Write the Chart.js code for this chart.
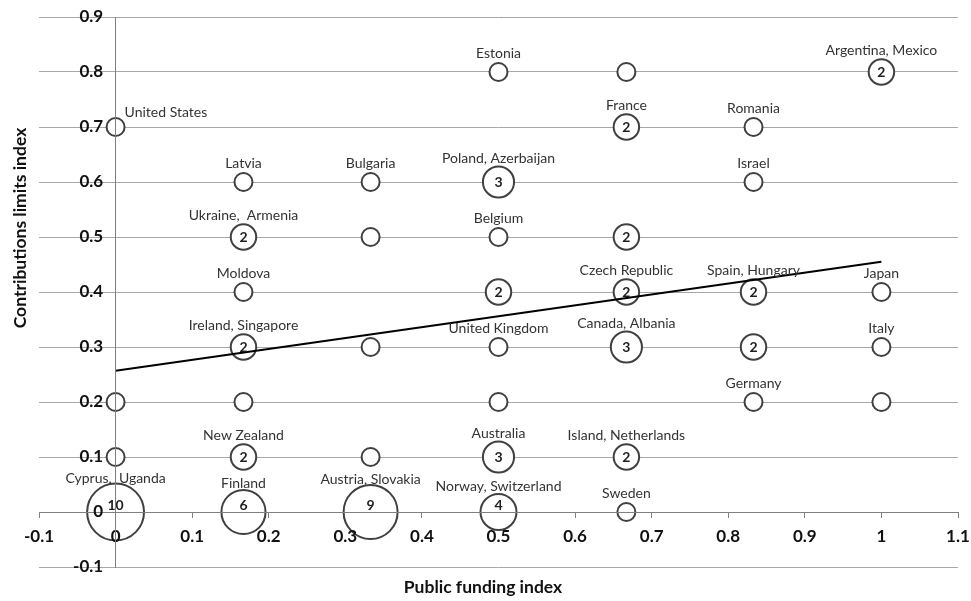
<!DOCTYPE html>
<html><head><meta charset="utf-8">
<script src="https://cdn.jsdelivr.net/npm/chart.js@4/dist/chart.umd.min.js"></script>
<style>html,body{margin:0;padding:0;background:#fff;}</style>
</head><body>
<canvas id="c" width="971" height="601"></canvas>
<script>
// ---- data ----
const names = [
  'Estonia', '', 'Argentina, Mexico',
  'United States', 'France', 'Romania',
  'Latvia', 'Bulgaria', 'Poland, Azerbaijan', 'Israel',
  'Ukraine,  Armenia', '', 'Belgium', '',
  'Moldova', '', 'Czech Republic', 'Spain, Hungary', 'Japan',
  'Ireland, Singapore', '', 'United Kingdom', 'Canada, Albania', '', 'Italy',
  '', '', '', 'Germany', '',
  '', 'New Zealand', '', 'Australia', 'Island, Netherlands',
  'Cyprus,  Uganda', 'Finland', 'Austria, Slovakia', 'Norway, Switzerland', 'Sweden'
];
const publicFunding = [
  0.5, 0.667, 1,
  0, 0.667, 0.833,
  0.167, 0.333, 0.5, 0.833,
  0.167, 0.333, 0.5, 0.667,
  0.167, 0.5, 0.667, 0.833, 1,
  0.167, 0.333, 0.5, 0.667, 0.833, 1,
  0, 0.167, 0.5, 0.833, 1,
  0, 0.167, 0.333, 0.5, 0.667,
  0, 0.167, 0.333, 0.5, 0.667
];
const contributionLimits = [
  0.8, 0.8, 0.8,
  0.7, 0.7, 0.7,
  0.6, 0.6, 0.6, 0.6,
  0.5, 0.5, 0.5, 0.5,
  0.4, 0.4, 0.4, 0.4, 0.4,
  0.3, 0.3, 0.3, 0.3, 0.3, 0.3,
  0.2, 0.2, 0.2, 0.2, 0.2,
  0.1, 0.1, 0.1, 0.1, 0.1,
  0, 0, 0, 0, 0
];
const countryCounts = [
  1, 1, 2,
  1, 2, 1,
  1, 1, 3, 1,
  2, 1, 1, 2,
  1, 2, 2, 2, 1,
  2, 1, 1, 3, 2, 1,
  1, 1, 1, 1, 1,
  1, 2, 1, 3, 2,
  10, 6, 9, 4, 1
];
const trendX = [0, 1];
const trendY = [0.257, 0.455];
const xTickLabels = ['-0.1','0','0.1','0.2','0.3','0.4','0.5','0.6','0.7','0.8','0.9','1','1.1'];
const yTickLabels = ['-0.1','0','0.1','0.2','0.3','0.4','0.5','0.6','0.7','0.8','0.9'];
const xTitle = 'Public funding index';
const yTitle = 'Contributions limits index';

// ---- rendering ----
const FONT = 'Lato, "Open Sans", sans-serif';
const radiusFor = n => 9 * Math.sqrt(n);

const bubbleLabels = {
  id: 'bubbleLabels',
  afterDatasetsDraw(chart) {
    const ctx = chart.ctx;
    const meta = chart.getDatasetMeta(1);
    ctx.save();
    meta.data.forEach((el, i) => {
      const n = countryCounts[i];
      const r = radiusFor(n);
      if (n > 1) {
        ctx.font = 'bold 14px ' + FONT;
        ctx.fillStyle = '#1e1e1e';
        ctx.textAlign = 'center';
        ctx.textBaseline = 'middle';
        ctx.fillText(String(n), el.x, el.y - (r > 16 ? 7 : 0));
      }
      const name = names[i];
      if (name) {
        ctx.font = '14px ' + FONT;
        ctx.fillStyle = '#333';
        ctx.textBaseline = 'middle';
        if (el.x < chart.chartArea.left + 90 && n === 1) {
          ctx.textAlign = 'left';
          ctx.fillText(name, el.x + 9, el.y - 15);
        } else {
          ctx.textAlign = 'center';
          ctx.fillText(name, el.x, el.y - (11 + 0.8 * r));
        }
      }
    });
    ctx.restore();
  }
};

const axisTitles = {
  id: 'axisTitles',
  afterDraw(chart) {
    const ctx = chart.ctx;
    ctx.save();
    ctx.font = 'bold 17.5px ' + FONT;
    ctx.fillStyle = '#111';
    ctx.textAlign = 'center';
    ctx.textBaseline = 'middle';
    ctx.fillText(xTitle, 483, 587);
    ctx.translate(20, 228);
    ctx.rotate(-Math.PI / 2);
    ctx.fillText(yTitle, 0, 0);
    ctx.restore();
  }
};

const noPad = s => { s.paddingLeft = 0; s.paddingRight = 0; s.paddingTop = 0; s.paddingBottom = 0; };

new Chart(document.getElementById('c'), {
  type: 'bubble',
  data: {
    datasets: [
      {
        type: 'line',
        data: trendX.map((x, i) => ({x, y: trendY[i]})),
        borderColor: '#000',
        borderWidth: 2,
        pointRadius: 0,
        fill: false,
        order: 0
      },
      {
        type: 'bubble',
        data: publicFunding.map((x, i) => ({x, y: contributionLimits[i], r: radiusFor(countryCounts[i])})),
        backgroundColor: '#ffffff',
        borderColor: '#404040',
        borderWidth: 2,
        hoverRadius: 0,
        order: 1
      }
    ]
  },
  options: {
    responsive: false,
    animation: false,
    events: [],
    layout: { autoPadding: false, padding: { left: 39, right: 13, top: 17, bottom: 34 } },
    plugins: { legend: { display: false }, tooltip: { enabled: false } },
    scales: {
      x: {
        type: 'linear', min: -0.1, max: 1.1,
        position: { y: 0 },
        afterFit: noPad,
        afterBuildTicks: s => { s.ticks = xTickLabels.map(t => ({value: parseFloat(t)})); },
        ticks: {
          callback: (v, i) => xTickLabels[i],
          font: { family: FONT, weight: 'bold', size: 17 },
          color: '#111', padding: 9, z: 1, maxRotation: 0, autoSkip: false
        },
        grid: { display: true, drawOnChartArea: false, drawTicks: true, tickLength: 5, color: '#808080' },
        border: { display: true, color: '#808080', width: 1, z: 1 }
      },
      y: {
        type: 'linear', min: -0.1, max: 0.9,
        position: { x: 0 },
        afterFit: noPad,
        afterBuildTicks: s => { s.ticks = yTickLabels.map(t => ({value: parseFloat(t)})); },
        ticks: {
          callback: (v, i) => yTickLabels[i] + '   ',
          font: { family: FONT, weight: 'bold', size: 17 },
          color: '#111', padding: 8, z: 1, autoSkip: false
        },
        grid: { color: '#a8a8a8', lineWidth: 1, drawTicks: true, tickLength: 6 },
        border: { display: true, color: '#808080', width: 1, z: 1 }
      }
    }
  },
  plugins: [bubbleLabels, axisTitles]
});
</script>
</body></html>
